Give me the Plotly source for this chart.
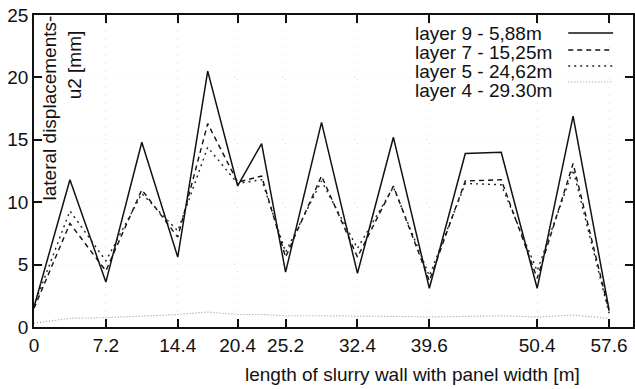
import plotly.graph_objects as go

x_pos = [0, 3.6, 7.2, 10.8, 14.4, 17.4, 20.4, 22.8, 25.2, 28.8, 32.4, 36.0, 39.6, 43.2, 46.8, 50.4, 54.0, 57.6]
layer9 = [1.6, 11.8, 3.6, 14.8, 5.6, 20.5, 11.3, 14.7, 4.4, 16.4, 4.3, 15.2, 3.1, 13.9, 14.0, 3.1, 16.9, 1.4]
layer7 = [1.5, 8.3, 4.5, 11.0, 7.2, 16.3, 11.6, 12.1, 5.6, 12.1, 5.6, 11.3, 3.7, 11.7, 11.8, 3.9, 13.1, 1.3]
layer5 = [1.7, 9.3, 5.3, 10.7, 7.7, 14.4, 11.5, 11.8, 6.0, 11.7, 6.3, 11.2, 4.1, 11.5, 11.4, 4.5, 12.6, 1.1]
layer4 = [0.3, 0.7, 0.75, 0.9, 1.0, 1.2, 1.0, 1.0, 0.9, 0.9, 0.9, 0.85, 0.8, 0.85, 0.9, 0.8, 0.95, 0.7]

x_ticks = [0, 7.2, 14.4, 20.4, 25.2, 32.4, 39.6, 50.4, 57.6]
x_tick_labels = ["0", "7.2", "14.4", "20.4", "25.2", "32.4", "39.6", "50.4", "57.6"]
y_ticks = [0, 5, 10, 15, 20, 25]

series_names = ["layer 9 - 5,88m", "layer 7 - 15,25m", "layer 5 - 24,62m", "layer 4 - 29.30m"]
series_data = [layer9, layer7, layer5, layer4]
styles = [
    dict(color="#111111", width=1.5, dash="solid"),
    dict(color="#111111", width=1.4, dash="5px,4px"),
    dict(color="#222222", width=1.4, dash="2px,4px"),
    dict(color="#9a9a9a", width=1.2, dash="1px,2px"),
]

FONT = "Liberation Sans, Arial, sans-serif"
FS = 19
W, H = 635, 389
ML, MR, MT, MB = 34, 0, 15, 62
PW = W - ML - MR
PH = H - MT - MB

def px_x(p):
    return (p - ML) / PW

def px_y(p):
    return (H - MB - p) / PH

fig = go.Figure()
for name, ys, st in zip(series_names, series_data, styles):
    fig.add_trace(go.Scatter(x=x_pos, y=ys, mode="lines", name=name, line=st, showlegend=False))

# manual gnuplot-style legend (text left, sample right)
text_rows = [33, 52, 71, 90]
sample_rows = [33, 50, 66, 82]
for name, st, ty, sy in zip(series_names, styles, text_rows, sample_rows):
    fig.add_annotation(x=px_x(414), y=px_y(ty), xref="paper", yref="paper", text=name,
                       showarrow=False, xanchor="left", yanchor="middle",
                       font=dict(family=FONT, size=FS, color="#111111"))
    fig.add_shape(type="line", xref="paper", yref="paper",
                  x0=px_x(570), x1=px_x(615), y0=px_y(sy), y1=px_y(sy), line=st)

# y-axis title inside plot
fig.add_annotation(x=px_x(50), y=px_y(13), xref="paper", yref="paper",
                   text="lateral displacements-", textangle=-90, showarrow=False,
                   xanchor="center", yanchor="top",
                   font=dict(family=FONT, size=FS, color="#111111"))
fig.add_annotation(x=px_x(75), y=px_y(28), xref="paper", yref="paper",
                   text="u2 [mm]", textangle=-90, showarrow=False,
                   xanchor="center", yanchor="top",
                   font=dict(family=FONT, size=FS, color="#111111"))
# x-axis title
fig.add_annotation(x=px_x(414), y=px_y(375), xref="paper", yref="paper",
                   text="length of slurry wall with panel width [m]", showarrow=False,
                   xanchor="center", yanchor="middle",
                   font=dict(family=FONT, size=FS, color="#111111"))

fig.update_layout(
    width=W, height=H,
    margin=dict(l=ML, r=MR, t=MT, b=MB),
    paper_bgcolor="white", plot_bgcolor="white",
    font=dict(family=FONT, size=FS, color="#111111"),
    showlegend=False,
)
fig.update_xaxes(range=[0, 60], tickvals=x_ticks, ticktext=x_tick_labels,
                 ticks="inside", ticklen=8, tickwidth=1.5, tickcolor="#111111",
                 showline=True, linecolor="#111111", linewidth=2, mirror="ticks",
                 showgrid=True, gridcolor="#dedede", griddash="1px,7px", gridwidth=1,
                 zeroline=False)
fig.update_yaxes(range=[0, 25], tickvals=y_ticks,
                 ticks="inside", ticklen=8, tickwidth=1.5, tickcolor="#111111",
                 showline=True, linecolor="#111111", linewidth=1.5, mirror="ticks",
                 showgrid=True, gridcolor="#dedede", griddash="1px,7px", gridwidth=1,
                 zeroline=False)

fig.write_html("out.html")
